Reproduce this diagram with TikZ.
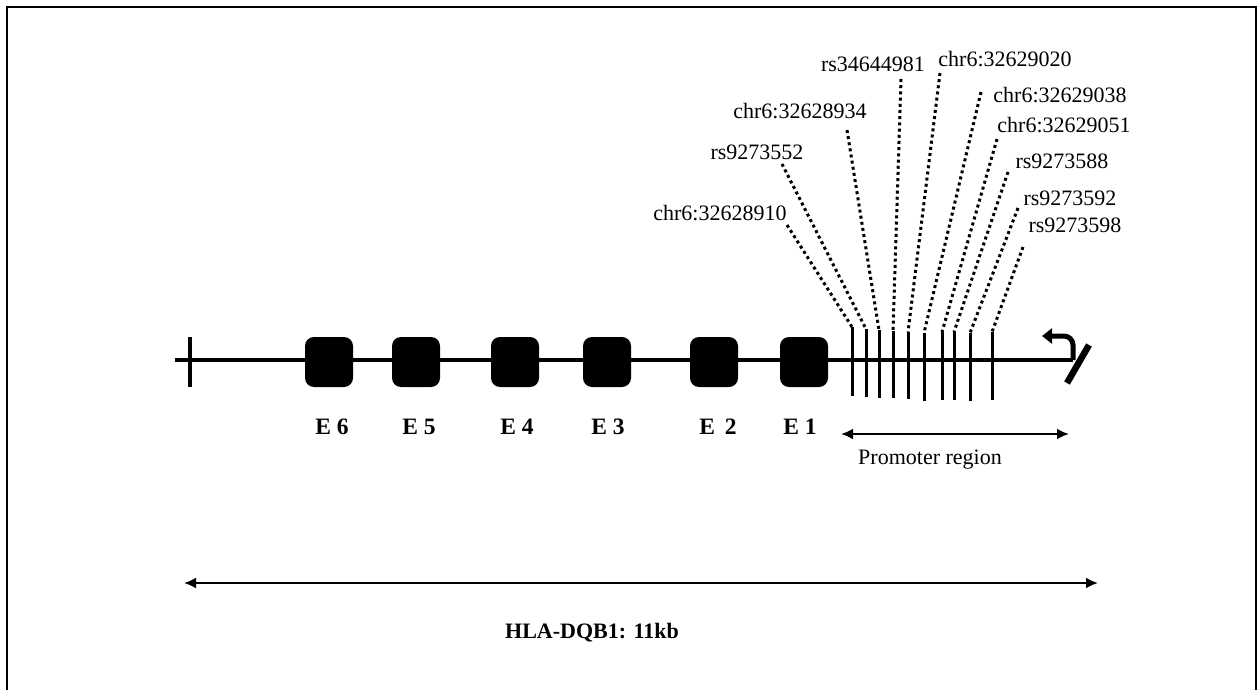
\documentclass[tikz,border=0pt]{standalone}
\usepackage{fontspec}
\setmainfont{Liberation Serif}
\usetikzlibrary{arrows.meta}
\begin{document}
\begin{tikzpicture}[x=1pt,y=-1pt,
  lbl/.style={anchor=base, inner sep=0pt, font=\fontsize{22}{26}\selectfont},
  exlbl/.style={anchor=base, inner sep=0pt, font=\fontsize{23.5}{27}\selectfont\bfseries},
  exon/.style={fill=black, rounded corners=9pt, minimum width=48pt, minimum height=50pt, inner sep=0pt},
  snptick/.style={line width=3pt},
  leader/.style={line width=3pt, dash pattern=on 3pt off 3.2pt},
  span/.style={line width=2.6pt, {Latex[length=12pt,width=11pt]}-{Latex[length=12pt,width=11pt]}},
  gene/.style={line width=4.5pt}]
\useasboundingbox (0,0) rectangle (1259,690);
% frame
\draw[line width=2pt] (7,700) -- (7,7) -- (1256,7) -- (1256,700);

% main gene line
\coordinate (gstart) at (175,360);
\coordinate (gend) at (1073,360);
\draw[gene] (gstart) -- (gend);
% start tick
\coordinate (st1) at (190,337);
\coordinate (st2) at (190,387);
\draw[line width=4pt] (st1) -- (st2);

% exons
\node[exon] (e6) at (329,362) {};
\node[exon] (e5) at (416,362) {};
\node[exon] (e4) at (515,362) {};
\node[exon] (e3) at (607,362) {};
\node[exon] (e2) at (714,362) {};
\node[exon] (e1) at (804,362) {};
\node[exlbl] (le6) at (332,434) {E 6};
\node[exlbl] (le5) at (419,434) {E 5};
\node[exlbl] (le4) at (517,434) {E 4};
\node[exlbl] (le3) at (608,434) {E 3};
\node[exlbl] (le2) at (718,434) {E\hspace{10pt}2};
\node[exlbl] (le1) at (800,434) {E 1};

% SNP ticks
\foreach \n/\x/\t/\b in {1/852/327/396, 2/866/329/397, 3/879/330/398, 4/893/331/398, 5/908/332/399,
                          6/924/333/401, 7/942/332/400, 8/954/332/400, 9/970/333/401, 10/992/332/400}{
  \coordinate (t\n) at (\x,\t);
  \coordinate (b\n) at (\x,\b);
  \draw[snptick] (t\n) -- (b\n);
}

% SNP labels
\node[lbl] (s1) at (720,220) {chr6:32628910};
\node[lbl] (s2) at (757,160) {rs9273552};
\node[lbl] (s3) at (800,119) {chr6:32628934};
\node[lbl] (s4) at (873,72) {rs34644981};
\node[lbl] (s5) at (1005,67) {chr6:32629020};
\node[lbl] (s6) at (1060,103) {chr6:32629038};
\node[lbl] (s7) at (1064,133) {chr6:32629051};
\node[lbl] (s8) at (1062,168) {rs9273588};
\node[lbl] (s9) at (1070,205) {rs9273592};
\node[lbl] (s10) at (1075,233) {rs9273598};

% leader tops
\coordinate (d1) at (787,225);
\coordinate (d2) at (782,164);
\coordinate (d3) at (847,130);
\coordinate (d4) at (901,79);
\coordinate (d5) at (940,73);
\coordinate (d6) at (981,92);
\coordinate (d7) at (997,139);
\coordinate (d8) at (1008,172);
\coordinate (d9) at (1018,208);
\coordinate (d10) at (1023,247);
\foreach \n in {1,...,10}{
  \draw[leader] (d\n) -- (t\n);
}

% transcription start bent arrow
\coordinate (tss0) at (1073,360);
\coordinate (tss1) at (1042,336);
\draw[line width=5pt, rounded corners=9pt, -{Triangle[length=10pt,width=15pt]}] (tss0) |- (tss1);
\coordinate (sl1) at (1067,383);
\coordinate (sl2) at (1089,345);
\draw[line width=6.5pt] (sl1) -- (sl2);

% promoter region
\coordinate (p1) at (841,434);
\coordinate (p2) at (1069,434);
\draw[span] (p1) -- (p2);
\node[lbl] (prom) at (930,464) {Promoter region};

% whole gene span
\coordinate (h1) at (184,583);
\coordinate (h2) at (1098,583);
\draw[span] (h1) -- (h2);
\node[lbl, font=\fontsize{22}{26}\selectfont\bfseries] (hla) at (592,638) {HLA-DQB1: 11kb};
\end{tikzpicture}
\end{document}
